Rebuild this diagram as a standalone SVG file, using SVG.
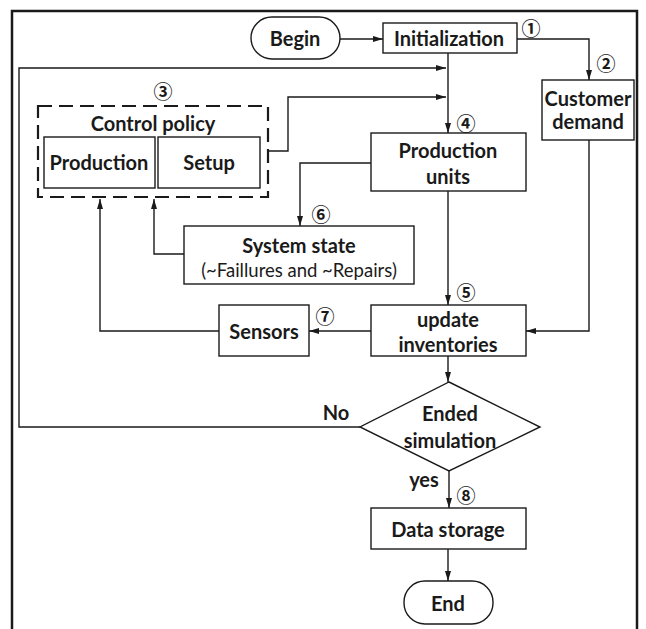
<svg xmlns="http://www.w3.org/2000/svg" width="646" height="629" viewBox="0 0 646 629">
<defs>
<marker id="ah" viewBox="0 0 10 6" refX="10" refY="3" markerWidth="10" markerHeight="6" markerUnits="userSpaceOnUse" orient="auto">
<path d="M0,0 L10,3 L0,6 Z" fill="#1a1a1a"/>
</marker>
</defs>
<style>
.box{fill:#fff;stroke:#1a1a1a;stroke-width:1.4}
.dash{fill:none;stroke:#1a1a1a;stroke-width:2.2;stroke-dasharray:14 7}
.c{fill:none;stroke:#1a1a1a;stroke-width:1.4;marker-end:url(#ah)}
text{font-family:Lato,"Open Sans",sans-serif;font-weight:700;font-size:20px;fill:#1a1a1a;text-anchor:middle;dominant-baseline:central}
.r{font-weight:400;font-size:18.5px}
.n{font-family:"Noto Sans CJK SC","DejaVu Sans",sans-serif;font-weight:700;font-size:19px}
</style>
<rect x="0" y="0" width="646" height="629" fill="#fff"/>
<rect x="12" y="11" width="625" height="640" fill="none" stroke="#1a1a1a" stroke-width="2.5"/>

<g id="connectors">
<path class="c" d="M340,39 H383"/>
<path class="c" d="M517,39 H589 V80"/>
<path class="c" d="M448,53 V133"/>
<path class="c" d="M360,427 H19 V68 H446"/>
<path class="c" d="M268,151 H288 V97 H446"/>
<path class="c" d="M371,163 H300 V226"/>
<path class="c" d="M184,254 H154 V199"/>
<path class="c" d="M448,191 V305"/>
<path class="c" d="M589,140 V331 H526"/>
<path class="c" d="M371,331 H309"/>
<path class="c" d="M219,331 H100 V199"/>
<path class="c" d="M448,356 V382"/>
<path class="c" d="M449,471 V508"/>
<path class="c" d="M448,549 V581"/>
<text x="336" y="412">No</text>
<text x="424" y="479">yes</text>
<text class="n" x="531" y="27">①</text>
<text class="n" x="606" y="62">②</text>
<text class="n" x="163" y="90">③</text>
<text class="n" x="466" y="122">④</text>
<text class="n" x="466" y="291">⑤</text>
<text class="n" x="321" y="213">⑥</text>
<text class="n" x="325" y="315">⑦</text>
<text class="n" x="466" y="494">⑧</text>
</g>

<g id="begin">
<rect class="box" x="251" y="17" width="89" height="42" rx="21"/>
<text x="295" y="38">Begin</text>
</g>
<g id="initialization">
<rect class="box" x="383" y="23" width="134" height="30"/>
<text x="449" y="38">Initialization</text>
</g>
<g id="customer-demand">
<rect class="box" x="542" y="80" width="92" height="60"/>
<text x="588" y="98">Customer</text>
<text x="588" y="121">demand</text>
</g>
<g id="control-policy">
<rect class="dash" x="38" y="106" width="230" height="91"/>
<text x="153" y="123">Control policy</text>
</g>
<g id="production">
<rect class="box" x="44" y="137" width="111" height="51"/>
<text x="99" y="162">Production</text>
</g>
<g id="setup">
<rect class="box" x="158" y="137" width="102" height="51"/>
<text x="209" y="162">Setup</text>
</g>
<g id="production-units">
<rect class="box" x="371" y="133" width="155" height="58"/>
<text x="448" y="150">Production</text>
<text x="448" y="176">units</text>
</g>
<g id="system-state">
<rect class="box" x="184" y="226" width="230" height="58"/>
<text x="299" y="245">System state</text>
<text class="r" x="299" y="270">(~Faillures and ~Repairs)</text>
</g>
<g id="update-inventories">
<rect class="box" x="371" y="305" width="155" height="51"/>
<text x="448" y="319">update</text>
<text x="448" y="344">inventories</text>
</g>
<g id="sensors">
<rect class="box" x="219" y="305" width="90" height="51"/>
<text x="264" y="331">Sensors</text>
</g>
<g id="ended-simulation">
<path class="box" d="M449,382 L540,427 L449,471 L360,427 Z"/>
<text x="450" y="413">Ended</text>
<text x="450" y="440">simulation</text>
</g>
<g id="data-storage">
<rect class="box" x="371" y="508" width="155" height="41"/>
<text x="448" y="529">Data storage</text>
</g>
<g id="end">
<rect class="box" x="404" y="581" width="89" height="43" rx="21"/>
<text x="448" y="603">End</text>
</g>
</svg>
